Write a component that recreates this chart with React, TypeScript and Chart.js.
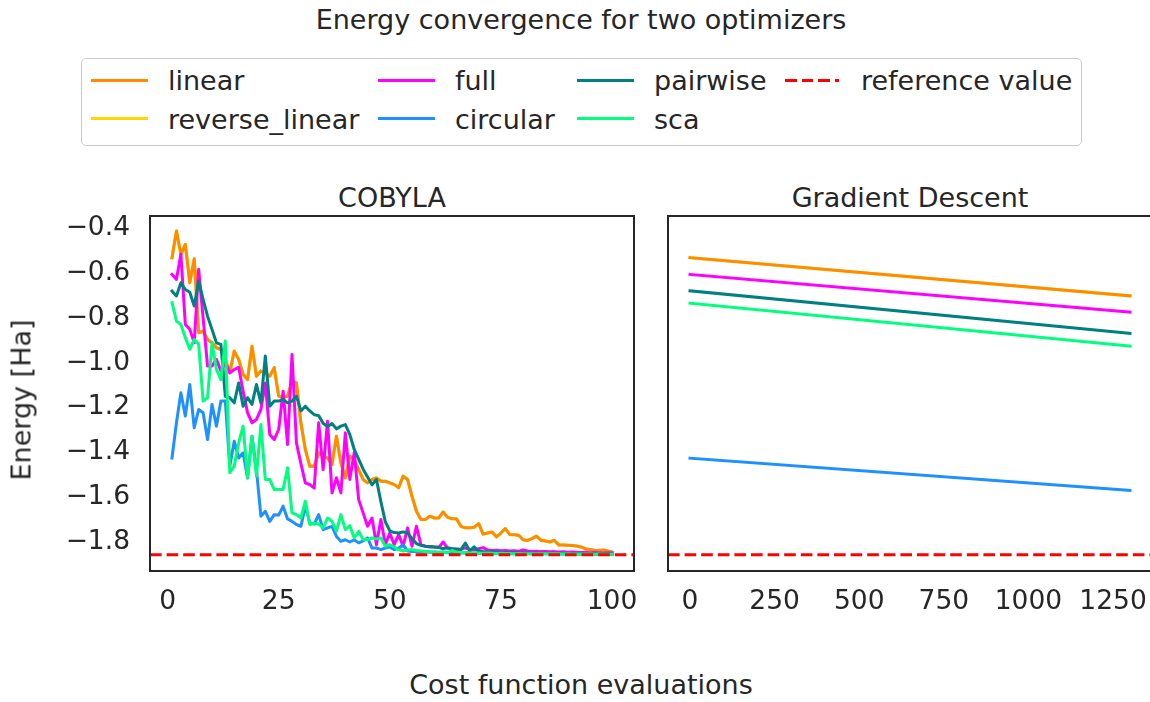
import React, { useEffect, useRef } from 'react';
import { Chart, registerables } from 'chart.js';

Chart.register(...registerables);

const FONT_FAMILY = '"DejaVu Sans", "Liberation Sans", sans-serif';
const INK = '#262626';
const LABEL_SIZE = 27;
const TICK_SIZE = 26.5;

// ---- axis ticks -------------------------------------------------------------
const cobylaXTicks = [0, 25, 50, 75, 100];
const gdXTicks = [0, 250, 500, 750, 1000, 1250];
const energyTicks = [-1.8, -1.6, -1.4, -1.2, -1.0, -0.8, -0.6, -0.4];
const energyTickLabels = ['−1.8', '−1.6', '−1.4', '−1.2', '−1.0', '−0.8', '−0.6', '−0.4'];

// exact ground-state energy used as the dashed reference line
const referenceEnergy = -1.857275;

// ---- COBYLA: energy after each cost function evaluation (1..100) ------------
const cobylaLinear = [
  -0.531, -0.412, -0.516, -0.472, -0.643, -0.536, -0.866, -0.859, -0.896, -0.911,
  -0.933, -0.941, -0.985, -1.045, -0.948, -0.985, -1.052, -1.075, -0.926, -1.060,
  -1.037, -1.045, -1.060, -1.022, -1.149, -1.156, -1.149, -1.082, -1.090, -1.268,
  -1.387, -1.462, -1.462, -1.402, -1.417, -1.425, -1.454, -1.328, -1.447, -1.514,
  -1.417, -1.432, -1.477, -1.521, -1.536, -1.521, -1.514, -1.529, -1.529, -1.536,
  -1.544, -1.558, -1.506, -1.521, -1.596, -1.663, -1.700, -1.700, -1.685, -1.693,
  -1.693, -1.666, -1.690, -1.696, -1.696, -1.730, -1.737, -1.737, -1.734, -1.718,
  -1.765, -1.760, -1.755, -1.777, -1.760, -1.740, -1.767, -1.768, -1.770, -1.790,
  -1.793, -1.785, -1.774, -1.792, -1.796, -1.800, -1.792, -1.813, -1.814, -1.815,
  -1.816, -1.818, -1.822, -1.830, -1.834, -1.837, -1.838, -1.836, -1.840, -1.845,
];

// reverse_linear yields the same circuit energies as linear
const cobylaReverseLinear = [
  -0.531, -0.412, -0.516, -0.472, -0.643, -0.536, -0.866, -0.859, -0.896, -0.911,
  -0.933, -0.941, -0.985, -1.045, -0.948, -0.985, -1.052, -1.075, -0.926, -1.060,
  -1.037, -1.045, -1.060, -1.022, -1.149, -1.156, -1.149, -1.082, -1.090, -1.268,
  -1.387, -1.462, -1.462, -1.402, -1.417, -1.425, -1.454, -1.328, -1.447, -1.514,
  -1.417, -1.432, -1.477, -1.521, -1.536, -1.521, -1.514, -1.529, -1.529, -1.536,
  -1.544, -1.558, -1.506, -1.521, -1.596, -1.663, -1.700, -1.700, -1.685, -1.693,
  -1.693, -1.666, -1.690, -1.696, -1.696, -1.730, -1.737, -1.737, -1.734, -1.718,
  -1.765, -1.760, -1.755, -1.777, -1.760, -1.740, -1.767, -1.768, -1.770, -1.790,
  -1.793, -1.785, -1.774, -1.792, -1.796, -1.800, -1.792, -1.813, -1.814, -1.815,
  -1.816, -1.818, -1.822, -1.830, -1.834, -1.837, -1.838, -1.836, -1.840, -1.845,
];

const cobylaFull = [
  -0.606, -0.628, -0.516, -0.829, -0.851, -0.911, -0.583, -0.800, -1.015, -1.015,
  -0.985, -1.037, -1.000, -1.045, -1.030, -1.020, -1.127, -1.223, -1.268, -1.253,
  -1.209, -1.090, -1.320, -1.343, -1.298, -1.127, -1.365, -0.963, -1.358, -1.450,
  -1.536, -1.544, -1.559, -1.268, -1.477, -1.261, -1.581, -1.514, -1.581, -1.313,
  -1.521, -1.400, -1.611, -1.670, -1.730, -1.693, -1.812, -1.700, -1.812, -1.760,
  -1.812, -1.767, -1.819, -1.737, -1.819, -1.730, -1.812, -1.819, -1.822, -1.822,
  -1.825, -1.800, -1.828, -1.830, -1.831, -1.833, -1.826, -1.834, -1.835, -1.830,
  -1.825, -1.836, -1.838, -1.837, -1.839, -1.838, -1.840, -1.839, -1.841, -1.836,
  -1.840, -1.842, -1.841, -1.843, -1.842, -1.844, -1.843, -1.845, -1.844, -1.846,
  -1.845, -1.846, -1.847, -1.846, -1.848, -1.847, -1.848, -1.849, -1.848, -1.849,
];

const cobylaCircular = [
  -1.425, -1.268, -1.134, -1.238, -1.097, -1.290, -1.209, -1.223, -1.343, -1.186,
  -1.283, -1.171, -1.171, -1.462, -1.350, -1.425, -1.402, -1.514, -1.328, -1.477,
  -1.685, -1.663, -1.708, -1.678, -1.680, -1.640, -1.697, -1.708, -1.722, -1.730,
  -1.640, -1.715, -1.720, -1.678, -1.745, -1.737, -1.730, -1.775, -1.797, -1.790,
  -1.800, -1.790, -1.804, -1.795, -1.782, -1.827, -1.827, -1.834, -1.827, -1.822,
  -1.834, -1.828, -1.812, -1.840, -1.842, -1.843, -1.845, -1.844, -1.846, -1.845,
  -1.847, -1.846, -1.848, -1.847, -1.848, -1.849, -1.848, -1.849, -1.850, -1.849,
  -1.850, -1.850, -1.851, -1.850, -1.851, -1.851, -1.852, -1.851, -1.852, -1.852,
  -1.852, -1.853, -1.852, -1.853, -1.853, -1.853, -1.853, -1.854, -1.853, -1.854,
  -1.854, -1.854, -1.854, -1.855, -1.854, -1.855, -1.855, -1.855, -1.855, -1.855,
];

const cobylaPairwise = [
  -0.680, -0.702, -0.643, -0.673, -0.685, -0.747, -0.635, -0.717, -0.792, -0.851,
  -0.911, -0.918, -1.150, -1.156, -1.179, -1.090, -1.194, -1.156, -1.186, -1.097,
  -1.179, -0.970, -1.194, -1.171, -1.171, -1.164, -1.179, -1.171, -1.149, -1.215,
  -1.194, -1.215, -1.232, -1.236, -1.270, -1.285, -1.271, -1.295, -1.283, -1.276,
  -1.320, -1.387, -1.430, -1.475, -1.510, -1.545, -1.521, -1.620, -1.710, -1.750,
  -1.758, -1.760, -1.755, -1.760, -1.785, -1.807, -1.815, -1.819, -1.820, -1.822,
  -1.824, -1.830, -1.825, -1.830, -1.832, -1.834, -1.805, -1.840, -1.822, -1.842,
  -1.843, -1.845, -1.844, -1.846, -1.846, -1.847, -1.848, -1.847, -1.849, -1.848,
  -1.849, -1.850, -1.849, -1.850, -1.850, -1.851, -1.850, -1.851, -1.851, -1.852,
  -1.851, -1.852, -1.852, -1.852, -1.853, -1.852, -1.853, -1.853, -1.853, -1.854,
];

const cobylaSca = [
  -0.732, -0.814, -0.829, -0.888, -0.940, -0.896, -0.918, -1.171, -1.156, -0.911,
  -1.030, -1.075, -0.903, -1.491, -1.462, -1.358, -1.283, -1.514, -1.328, -1.506,
  -1.276, -1.521, -1.521, -1.566, -1.566, -1.566, -1.469, -1.670, -1.678, -1.693,
  -1.618, -1.722, -1.715, -1.720, -1.737, -1.693, -1.708, -1.752, -1.678, -1.745,
  -1.727, -1.782, -1.752, -1.789, -1.789, -1.782, -1.786, -1.782, -1.819, -1.812,
  -1.822, -1.834, -1.840, -1.836, -1.834, -1.838, -1.840, -1.842, -1.843, -1.845,
  -1.846, -1.845, -1.847, -1.838, -1.846, -1.848, -1.847, -1.849, -1.848, -1.849,
  -1.850, -1.849, -1.850, -1.851, -1.850, -1.851, -1.851, -1.852, -1.851, -1.852,
  -1.852, -1.852, -1.853, -1.852, -1.853, -1.853, -1.853, -1.853, -1.854, -1.853,
  -1.854, -1.854, -1.854, -1.854, -1.854, -1.855, -1.854, -1.855, -1.855, -1.855,
];

// ---- Gradient descent: energy at the first and last iteration ----------------
const gdIterations = [0, 1300];
const gdLinear = [-0.531, -0.702];
const gdReverseLinear = [-0.531, -0.702];
const gdFull = [-0.606, -0.774];
const gdCircular = [-1.426, -1.570];
const gdPairwise = [-0.679, -0.869];
const gdSca = [-0.734, -0.926];

type SeriesDef = {
  label: string;
  color: string;
  order: number;
  cobyla: number[];
  gd: number[];
};

// lower `order` is painted on top
const SERIES: SeriesDef[] = [
  { label: 'linear', color: '#ff8c00', order: 5, cobyla: cobylaLinear, gd: gdLinear },
  { label: 'reverse_linear', color: '#ffd700', order: 6, cobyla: cobylaReverseLinear, gd: gdReverseLinear },
  { label: 'full', color: '#ff00ff', order: 4, cobyla: cobylaFull, gd: gdFull },
  { label: 'circular', color: '#1e90ff', order: 3, cobyla: cobylaCircular, gd: gdCircular },
  { label: 'pairwise', color: '#008080', order: 2, cobyla: cobylaPairwise, gd: gdPairwise },
  { label: 'sca', color: '#00ff7f', order: 1, cobyla: cobylaSca, gd: gdSca },
];

const REFERENCE_LABEL = 'reference value';
const REFERENCE_COLOR = '#ff0000';
const DASH = [11.6, 5];

const ENERGY_MIN = -1.9295;
const ENERGY_MAX = -0.345;

// axes frame drawn over the lines
const framePlugin = {
  id: 'axesFrame',
  afterDatasetsDraw(chart: any) {
    const { ctx, chartArea } = chart;
    const { left, top, right, bottom } = chartArea;
    ctx.save();
    ctx.strokeStyle = INK;
    ctx.lineWidth = 2;
    ctx.strokeRect(left, top, right - left, bottom - top);
    ctx.restore();
  },
};

type PanelProps = {
  which: 'cobyla' | 'gd';
  left: number;
  width: number;
  padLeft: number;
  padRight: number;
  xMin: number;
  xMax: number;
  xTicks: number[];
  showEnergyAxis: boolean;
};

const PANEL_TOP = 200;
const PANEL_HEIGHT = 430;

function Panel(props: PanelProps) {
  const ref = useRef<HTMLCanvasElement | null>(null);

  useEffect(() => {
    const canvas = ref.current;
    if (!canvas) return;
    const { which, xMin, xMax, xTicks, showEnergyAxis, padLeft, padRight } = props;

    const datasets: any[] = SERIES.map((s) => {
      const values = which === 'cobyla' ? s.cobyla : s.gd;
      const xs = which === 'cobyla' ? values.map((_, i) => i + 1) : gdIterations;
      return {
        label: s.label,
        data: values.map((y, i) => ({ x: xs[i], y })),
        borderColor: s.color,
        backgroundColor: s.color,
        borderWidth: 3,
        borderJoinStyle: 'round',
        borderCapStyle: 'square',
        pointRadius: 0,
        tension: 0,
        fill: false,
        clip: 0,
        order: s.order,
      };
    });

    datasets.push({
      label: REFERENCE_LABEL,
      data: [
        { x: xMin, y: referenceEnergy },
        { x: xMax, y: referenceEnergy },
      ],
      borderColor: REFERENCE_COLOR,
      backgroundColor: REFERENCE_COLOR,
      borderWidth: 3,
      borderDash: DASH,
      borderCapStyle: 'butt',
      pointRadius: 0,
      fill: false,
      clip: 0,
      order: 0,
    });

    const tickFont = { family: FONT_FAMILY, size: TICK_SIZE };

    const chart = new Chart(canvas, {
      type: 'line',
      data: { datasets },
      plugins: [framePlugin],
      options: {
        responsive: false,
        maintainAspectRatio: false,
        animation: false,
        devicePixelRatio: 1,
        events: [],
        layout: { padding: { left: padLeft, right: padRight, top: 16, bottom: 0 } },
        plugins: {
          legend: { display: false },
          tooltip: { enabled: false },
          title: { display: false },
        },
        scales: {
          x: {
            type: 'linear',
            min: xMin,
            max: xMax,
            grid: { display: false, drawTicks: false },
            border: { display: false },
            afterBuildTicks: (scale: any) => {
              scale.ticks = xTicks.map((v) => ({ value: v }));
            },
            afterFit: (scale: any) => {
              scale.height = 59;
              scale.paddingLeft = 0;
              scale.paddingRight = 0;
            },
            ticks: {
              font: tickFont,
              color: INK,
              padding: 15,
              maxRotation: 0,
              minRotation: 0,
              autoSkip: false,
              callback: (v: any) => String(v),
            },
          },
          y: {
            type: 'linear',
            display: showEnergyAxis,
            min: ENERGY_MIN,
            max: ENERGY_MAX,
            grid: { display: false, drawTicks: false },
            border: { display: false },
            afterBuildTicks: (scale: any) => {
              scale.ticks = energyTicks.map((v) => ({ value: v }));
            },
            afterFit: (scale: any) => {
              scale.width = showEnergyAxis ? 150 : 0;
              scale.paddingTop = 0;
              scale.paddingBottom = 0;
            },
            ticks: {
              font: tickFont,
              color: INK,
              padding: 20,
              autoSkip: false,
              callback: (v: any) => {
                const i = energyTicks.indexOf(v);
                return i >= 0 ? energyTickLabels[i] : '';
              },
            },
          },
        },
      } as any,
    });

    return () => chart.destroy();
  }, []);

  return (
    <canvas
      ref={ref}
      width={props.width}
      height={PANEL_HEIGHT}
      style={{
        position: 'absolute',
        left: props.left,
        top: PANEL_TOP,
        width: props.width,
        height: PANEL_HEIGHT,
      }}
    />
  );
}

// text placed by its baseline (DejaVu Sans: baseline sits 0.846em below a 1em line box top)
function Text(props: {
  x: number;
  baseline: number;
  size: number;
  align?: 'left' | 'center';
  children: React.ReactNode;
}) {
  const { x, baseline, size, align = 'center', children } = props;
  return (
    <div
      style={{
        position: 'absolute',
        left: x,
        top: baseline - 0.846 * size,
        fontSize: size,
        lineHeight: `${size}px`,
        whiteSpace: 'nowrap',
        color: INK,
        transform: align === 'center' ? 'translateX(-50%)' : undefined,
      }}
    >
      {children}
    </div>
  );
}

type LegendEntry = { label: string; color: string; dashed: boolean };

const LEGEND_COLUMNS: LegendEntry[][] = [
  [SERIES[0], SERIES[1]].map((s) => ({ label: s.label, color: s.color, dashed: false })),
  [SERIES[2], SERIES[3]].map((s) => ({ label: s.label, color: s.color, dashed: false })),
  [SERIES[4], SERIES[5]].map((s) => ({ label: s.label, color: s.color, dashed: false })),
  [{ label: REFERENCE_LABEL, color: REFERENCE_COLOR, dashed: true }],
];

// legend geometry
const LEGEND_BOX = { left: 81, top: 58, width: 1001, height: 88 };
const LEGEND_TEXT_X = [168, 455, 654, 861];
const LEGEND_BASELINES = [90, 128.5];
const LEGEND_HANDLE_Y = [80, 118.5];
const HANDLE_LEN = 54;
const HANDLE_PAD = 21.6;

function LegendHandle({ entry, textX, y }: { entry: LegendEntry; textX: number; y: number }) {
  const start = textX - HANDLE_PAD - HANDLE_LEN;
  const common = { position: 'absolute' as const, top: y - 1.5, height: 3 };
  if (entry.dashed) {
    return (
      <div
        style={{
          ...common,
          left: start,
          width: HANDLE_LEN,
          background: `repeating-linear-gradient(90deg, ${entry.color} 0px ${DASH[0]}px, transparent ${DASH[0]}px ${DASH[0] + DASH[1]}px)`,
        }}
      />
    );
  }
  return (
    <div
      style={{
        ...common,
        left: start - 1.5,
        width: HANDLE_LEN + 3,
        background: entry.color,
      }}
    />
  );
}

function Legend() {
  return (
    <>
      <div
        style={{
          position: 'absolute',
          left: LEGEND_BOX.left,
          top: LEGEND_BOX.top,
          width: LEGEND_BOX.width,
          height: LEGEND_BOX.height,
          boxSizing: 'border-box',
          border: '1px solid #cccccc',
          borderRadius: 5,
          background: '#ffffff',
        }}
      />
      {LEGEND_COLUMNS.map((col, ci) =>
        col.map((entry, ri) => (
          <React.Fragment key={entry.label}>
            <LegendHandle entry={entry} textX={LEGEND_TEXT_X[ci]} y={LEGEND_HANDLE_Y[ri]} />
            <Text x={LEGEND_TEXT_X[ci]} baseline={LEGEND_BASELINES[ri]} size={LABEL_SIZE} align="left">
              {entry.label}
            </Text>
          </React.Fragment>
        ))
      )}
    </>
  );
}

export default function App() {
  return (
    <div
      style={{
        position: 'fixed',
        left: 0,
        top: 0,
        width: 1150,
        height: 702,
        overflow: 'hidden',
        background: '#ffffff',
        fontFamily: FONT_FAMILY,
        color: INK,
      }}
    >
      <Text x={581} baseline={28.5} size={LABEL_SIZE}>
        Energy convergence for two optimizers
      </Text>
      <Legend />

      <Text x={392} baseline={207} size={LABEL_SIZE}>
        COBYLA
      </Text>
      <Text x={910} baseline={207} size={LABEL_SIZE}>
        Gradient Descent
      </Text>

      <Panel
        which="cobyla"
        left={0}
        width={650}
        padLeft={0}
        padRight={16}
        xMin={-3.95}
        xMax={104.95}
        xTicks={cobylaXTicks}
        showEnergyAxis={true}
      />
      <Panel
        which="gd"
        left={640}
        width={540}
        padLeft={28}
        padRight={28}
        xMin={-65}
        xMax={1365}
        xTicks={gdXTicks}
        showEnergyAxis={false}
      />

      <div
        style={{
          position: 'absolute',
          left: 20.9,
          top: 400,
          fontSize: LABEL_SIZE,
          lineHeight: `${LABEL_SIZE}px`,
          whiteSpace: 'nowrap',
          color: INK,
          transform: 'translate(-50%, -50%) rotate(-90deg)',
        }}
      >
        Energy [Ha]
      </div>

      <Text x={581} baseline={694} size={LABEL_SIZE}>
        Cost function evaluations
      </Text>
    </div>
  );
}
